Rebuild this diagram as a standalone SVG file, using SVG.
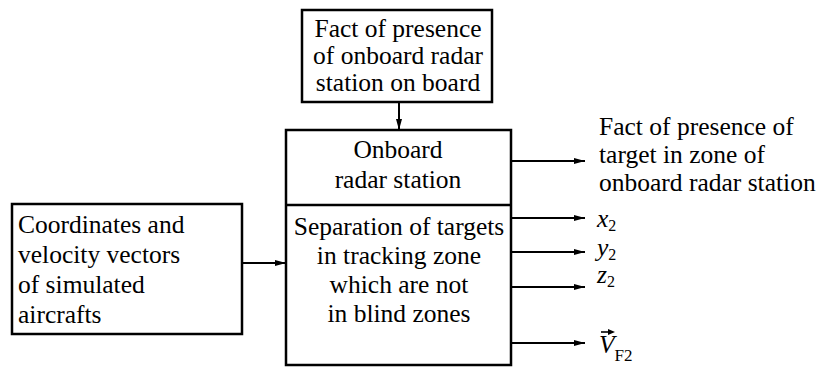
<svg xmlns="http://www.w3.org/2000/svg" width="833" height="367" viewBox="0 0 833 367">
<defs>
<style>
.box{fill:#fff;stroke:#000;stroke-width:2.5}
.conn{stroke:#000;stroke-width:2;fill:none}
</style>
<marker id="ah" markerWidth="12" markerHeight="8" refX="11" refY="4" orient="auto" markerUnits="userSpaceOnUse">
<path d="M0,1 L11,4 L0,7 Z" fill="#000"/>
</marker>
</defs>
<g id="node-fact-onboard">
<rect class="box" x="302" y="10" width="190" height="92"/>
<text style="font-family:'Liberation Serif',serif" font-size="25.5" text-anchor="middle" x="398" y="37">Fact of presence</text>
<text style="font-family:'Liberation Serif',serif" font-size="25.5" text-anchor="middle" x="398" y="64">of onboard radar</text>
<text style="font-family:'Liberation Serif',serif" font-size="25.5" text-anchor="middle" x="398" y="91">station on board</text>
</g>
<g id="node-radar">
<rect class="box" x="286" y="130" width="225" height="235"/>
<line x1="286" y1="205" x2="511" y2="205" stroke="#000" stroke-width="2.5"/>
<text style="font-family:'Liberation Serif',serif" font-size="25.5" text-anchor="middle" x="398" y="158">Onboard</text>
<text style="font-family:'Liberation Serif',serif" font-size="25.5" text-anchor="middle" x="398" y="188">radar station</text>
<text style="font-family:'Liberation Serif',serif" font-size="25.5" text-anchor="middle" x="399" y="235">Separation of targets</text>
<text style="font-family:'Liberation Serif',serif" font-size="25.5" text-anchor="middle" x="399" y="264">in tracking zone</text>
<text style="font-family:'Liberation Serif',serif" font-size="25.5" text-anchor="middle" x="399" y="293">which are not</text>
<text style="font-family:'Liberation Serif',serif" font-size="25.5" text-anchor="middle" x="399" y="322">in blind zones</text>
</g>
<g id="node-coordinates">
<rect class="box" x="12" y="204" width="230" height="130"/>
<text style="font-family:'Liberation Serif',serif" font-size="25.5" x="18" y="233">Coordinates and</text>
<text style="font-family:'Liberation Serif',serif" font-size="25.5" x="18" y="263">velocity vectors</text>
<text style="font-family:'Liberation Serif',serif" font-size="25.5" x="18" y="293">of simulated</text>
<text style="font-family:'Liberation Serif',serif" font-size="25.5" x="18" y="323">aircrafts</text>
</g>
<g id="node-outputs">
<text style="font-family:'Liberation Serif',serif" font-size="25.5" x="599" y="135">Fact of presence of</text>
<text style="font-family:'Liberation Serif',serif" font-size="25.5" x="599" y="163">target in zone of</text>
<text style="font-family:'Liberation Serif',serif" font-size="25.5" x="599" y="191">onboard radar station</text>
<text style="font-family:'Liberation Serif',serif" font-size="25.5" x="597" y="227"><tspan font-style="italic">x</tspan><tspan font-size="16" dy="4">2</tspan></text>
<text style="font-family:'Liberation Serif',serif" font-size="25.5" x="597" y="256"><tspan font-style="italic">y</tspan><tspan font-size="16" dy="4">2</tspan></text>
<text style="font-family:'Liberation Serif',serif" font-size="25.5" x="597" y="283"><tspan font-style="italic">z</tspan><tspan font-size="16" dy="4">2</tspan></text>
<text style="font-family:'Liberation Serif',serif" font-size="25.5" x="599" y="353"><tspan font-style="italic">V</tspan><tspan font-size="17" dy="8">F2</tspan></text>
<line x1="601" y1="332" x2="612" y2="332" stroke="#000" stroke-width="1.6"/>
<path d="M608,329 L615,332 L608,335 Z" fill="#000"/>
</g>
<g id="connectors">
<line class="conn" x1="399" y1="102" x2="399" y2="130" marker-end="url(#ah)"/>
<line class="conn" x1="242" y1="263" x2="286" y2="263" marker-end="url(#ah)"/>
<line class="conn" x1="511" y1="161" x2="585" y2="161" marker-end="url(#ah)"/>
<line class="conn" x1="511" y1="218" x2="585" y2="218" marker-end="url(#ah)"/>
<line class="conn" x1="511" y1="252" x2="585" y2="252" marker-end="url(#ah)"/>
<line class="conn" x1="511" y1="287" x2="585" y2="287" marker-end="url(#ah)"/>
<line class="conn" x1="511" y1="343" x2="585" y2="343" marker-end="url(#ah)"/>
</g>
</svg>
